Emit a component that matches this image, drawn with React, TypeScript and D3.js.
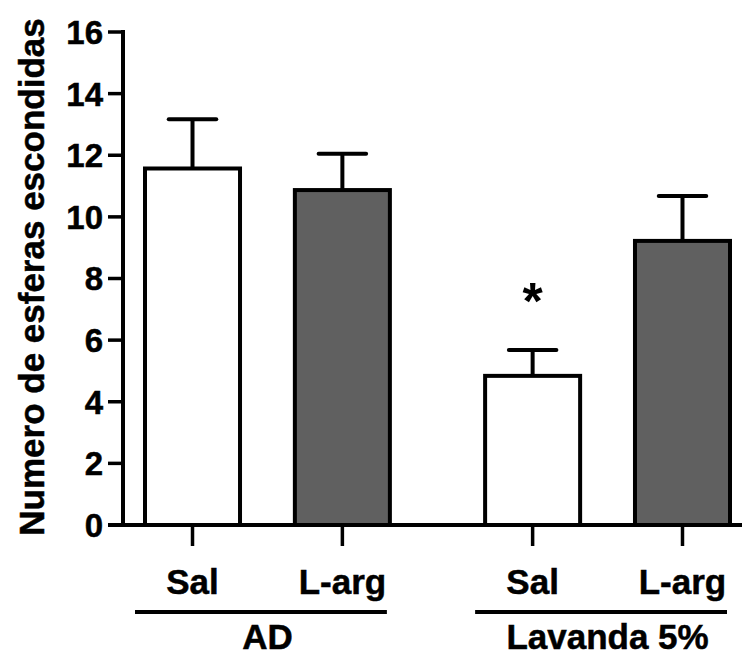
import React from 'react'
import * as d3 from 'd3'

// values
const groups = ['AD', 'Lavanda 5%']
const treatments = ['Sal', 'L-arg']
const means = [11.57, 10.87, 4.84, 9.22]
const errTops = [13.17, 12.05, 5.68, 10.68]
const yTicks = [0, 2, 4, 6, 8, 10, 12, 14, 16]
const significant = [false, false, true, false]

const font = '"Liberation Sans", Arial, Helvetica, sans-serif'

export default function App() {
  const W = 742
  const H = 658
  const axisX = 123
  const baseY = 525

  const y = d3.scaleLinear().domain([0, 16]).range([baseY, 32])

  // outer scale for the two groups, inner one for Sal / L-arg
  const xGroup = d3.scaleBand().domain(groups).range([145, 730]).paddingInner(0.28)
  const xInner = d3.scaleBand().domain(treatments).range([0, xGroup.bandwidth()]).paddingInner(0.366)

  const bars = groups.flatMap((g, gi) =>
    treatments.map((t, ti) => {
      const i = gi * treatments.length + ti
      return { g, t, i, x: (xGroup(g) as number) + (xInner(t) as number), mean: means[i], err: errTops[i], star: significant[i] }
    })
  )
  const bw = xInner.bandwidth()

  return (
    <svg width={W} height={H} style={{ position: 'absolute', left: 0, top: 0, background: '#fff' }}
      fontFamily={font} fontWeight="bold">
      {/* bars */}
      {bars.map(b => (
        <rect key={'r' + b.i} x={b.x} y={y(b.mean)} width={bw} height={baseY - y(b.mean)}
          fill={b.t === 'Sal' ? '#ffffff' : '#606060'} stroke="#000" strokeWidth={4} />
      ))}
      {/* error bars (upper only) */}
      {bars.map(b => {
        const cx = b.x + bw / 2
        return (
          <g key={'e' + b.i} stroke="#000" strokeWidth={4}>
            <line x1={cx} x2={cx} y1={y(b.mean)} y2={y(b.err)} />
            <line x1={cx - bw / 4} x2={cx + bw / 4} y1={y(b.err)} y2={y(b.err)} strokeLinecap="round" />
          </g>
        )
      })}
      {bars.filter(b => b.star).map(b => (
        <text key={'s' + b.i} x={b.x + bw / 2} y={y(b.err) - 31} textAnchor="middle" fontSize={52}>*</text>
      ))}

      {/* y axis */}
      <line x1={axisX} x2={axisX} y1={y(16) - 2} y2={baseY} stroke="#000" strokeWidth={4} />
      <g stroke="#000" strokeWidth={0.5}>
        {yTicks.map(t => (
          <g key={'yt' + t}>
            <line x1={axisX - 15} x2={axisX} y1={y(t)} y2={y(t)} strokeWidth={3.5} />
            <text x={axisX - 20} y={y(t)} dy="0.36em" textAnchor="end" fontSize={33}>{t}</text>
          </g>
        ))}
        <text transform={`translate(44,${277}) rotate(-90)`} textAnchor="middle" fontSize={35}>
          Numero de esferas escondidas
        </text>
      </g>

      {/* x axis */}
      <line x1={axisX - 15} x2={W} y1={baseY} y2={baseY} stroke="#000" strokeWidth={4} />
      <g stroke="#000" strokeWidth={0.5}>
        {bars.map(b => (
          <g key={'xt' + b.i}>
            <line x1={b.x + bw / 2} x2={b.x + bw / 2} y1={baseY} y2={baseY + 21} strokeWidth={3.5} />
            <text x={b.x + bw / 2} y={594} textAnchor="middle" fontSize={35}>{b.t}</text>
          </g>
        ))}
        {groups.map(g => {
          const gx = xGroup(g) as number
          return (
            <g key={'g' + g}>
              <line x1={gx - 10} x2={gx + xGroup.bandwidth() - 3} y1={612} y2={612} strokeWidth={4} />
              <text x={gx + xGroup.bandwidth() / 2} y={649} textAnchor="middle" fontSize={35}>{g}</text>
            </g>
          )
        })}
      </g>
    </svg>
  )
}
